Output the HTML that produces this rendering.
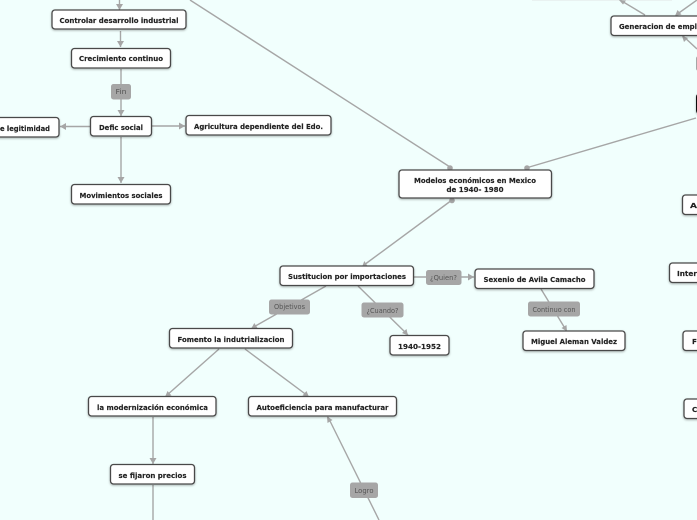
<!DOCTYPE html>
<html><head><meta charset="utf-8"><style>
html,body{margin:0;padding:0;background:#f1fffd;overflow:hidden}
svg{display:block}
.n{fill:#fff;stroke:#4a4a4a;stroke-width:1.3}
.t{font:bold 7.2px "DejaVu Sans","Liberation Sans",sans-serif;fill:#222;text-anchor:middle;stroke:#222;stroke-width:.15;filter:blur(.3px)}
.l{fill:#a6a6a6}
.lt{font:7px "DejaVu Sans","Liberation Sans",sans-serif;fill:#555;text-anchor:middle;filter:blur(.25px)}
.c{stroke:#a6a6a6;stroke-width:1.4;fill:none}
.a{fill:#a6a6a6}
</style></head><body>
<svg width="697" height="520" viewBox="0 0 697 520" xmlns="http://www.w3.org/2000/svg">
<defs><filter id="s" x="-10%" y="-20%" width="120%" height="150%"><feDropShadow dx="0" dy="1" stdDeviation="1" flood-color="#000" flood-opacity=".3"/></filter></defs>
<rect x="532" y="0" width="140" height="1" fill="#e9f2f1"/>
<g class="c">
<path d="M119.500 0V10"/><path d="M120.500 31V47"/><path d="M121 69V116"/><path d="M90 126.500H60"/><path d="M152 126H185"/><path d="M121 137V183"/>
<path d="M190 0L450 167"/><path d="M696 118L526 168"/><path d="M452 200L364 265"/>
<path d="M414 277H474"/><path d="M326 286L252 328"/><path d="M358 286L408 335"/><path d="M541 289L566 330"/>
<path d="M219 349L166 396"/><path d="M245 349L308 396"/><path d="M153 417V464"/><path d="M153 485V520"/><path d="M379 520L328 417"/>
<path d="M645 15L620 0"/><path d="M676 15L697 0"/><path d="M697 49L683 36"/>
</g>
<g class="a">
<path d="M116 4h7l-3.500 6z"/><path d="M117 41h7l-3.500 6z"/><path d="M117.500 110h7l-3.500 6z"/><path d="M66 123v7l-6-3.500z"/><path d="M179 122.500v7l6-3.500z"/><path d="M117.500 177h7l-3.500 6z"/>
<circle cx="450" cy="168" r="2.800"/><circle cx="527" cy="168" r="2.800"/><circle cx="452" cy="200.500" r="2.800"/>
<path d="M362 267l5.500-1 -3.200-5z"/><path d="M468 273.500v7l6-3.500z"/><path d="M251 329l6.500-1-3.200-5z"/><path d="M408 335.500l-1.500-6.500-4.500 4z"/><path d="M567 331.500l-.5-6.500-5 3z"/>
<path d="M165 397l6.500-1.500-4-4.500z"/><path d="M309 397l-2.500-6-4 4.500z"/><path d="M149.500 458h7l-3.500 6z"/><path d="M327 416.500l.5 6.500 5-3z"/>
<path d="M619 0l7 .5-3 4z"/><path d="M675 16l6.500-1.500-4-4.500z"/><path d="M682 36l6 2-4 4z"/>
</g>
<g filter="url(#s)">
<rect class="n" x="52" y="10" width="134" height="19" rx="3"/>
<rect class="n" x="71.500" y="48.500" width="99" height="19.500" rx="3"/>
<rect class="n" x="-20" y="117.500" width="79" height="19.500" rx="3"/>
<rect class="n" x="90.500" y="116.500" width="61" height="19.500" rx="3"/>
<rect class="n" x="186" y="115.500" width="145" height="19.500" rx="3"/>
<rect class="n" x="71.500" y="184.500" width="99" height="19.500" rx="3"/>
<rect class="n" x="399" y="170" width="152.500" height="28" rx="3"/>
<rect class="n" x="280" y="266" width="133.500" height="19.500" rx="3"/>
<rect class="n" x="475" y="269" width="119" height="19.500" rx="3"/>
<rect class="n" x="523" y="331" width="102" height="19.500" rx="3"/>
<rect class="n" x="390" y="335.500" width="59" height="19.500" rx="3"/>
<rect class="n" x="169.500" y="328.500" width="123" height="19.500" rx="3"/>
<rect class="n" x="88.500" y="396.500" width="127.500" height="19.500" rx="3"/>
<rect class="n" x="248.500" y="396.500" width="148" height="19.500" rx="3"/>
<rect class="n" x="110.500" y="464.500" width="84" height="19.500" rx="3"/>
<rect class="n" x="611" y="16" width="120" height="19.500" rx="3"/>
<rect class="n" x="697" y="94" width="30" height="19.500" rx="3" style="stroke:#111;stroke-width:2"/>
<rect class="n" x="682.500" y="195" width="40" height="19.500" rx="3"/>
<rect class="n" x="669.500" y="263" width="60" height="19.500" rx="3"/>
<rect class="n" x="683" y="331" width="40" height="19.500" rx="3"/>
<rect class="n" x="684" y="399" width="40" height="19.500" rx="3"/>
</g>
<g>
<rect class="l" x="111" y="84" width="20" height="15.500" rx="2.500"/>
<rect class="l" x="426" y="270" width="35.500" height="15" rx="2.500"/>
<rect class="l" x="269" y="299.500" width="41" height="15" rx="2.500"/>
<rect class="l" x="361.500" y="302.500" width="42" height="15" rx="2.500"/>
<rect class="l" x="528" y="301.500" width="52" height="15" rx="2.500"/>
<rect class="l" x="350" y="482.500" width="28" height="15.500" rx="2.500"/>
<rect class="l" x="696" y="56" width="10" height="15" rx="2.500"/>
</g>
<g class="t">
<text x="119" y="23" textLength="119" lengthAdjust="spacingAndGlyphs">Controlar desarrollo industrial</text>
<text x="121" y="61" textLength="84" lengthAdjust="spacingAndGlyphs">Crecimiento continuo</text>
<text x="25" y="131" textLength="50" lengthAdjust="spacingAndGlyphs">e legitimidad</text>
<text x="121" y="130" textLength="44" lengthAdjust="spacingAndGlyphs">Defic social</text>
<text x="258.500" y="129" textLength="129" lengthAdjust="spacingAndGlyphs">Agricultura dependiente del Edo.</text>
<text x="121" y="198" textLength="83" lengthAdjust="spacingAndGlyphs">Movimientos sociales</text>
<text x="475" y="183" textLength="122" lengthAdjust="spacingAndGlyphs">Modelos económicos en Mexico</text>
<text x="475" y="192" textLength="57" lengthAdjust="spacingAndGlyphs">de 1940- 1980</text>
<text x="347" y="279" textLength="118" lengthAdjust="spacingAndGlyphs">Sustitucion por importaciones</text>
<text x="534.500" y="282" textLength="102" lengthAdjust="spacingAndGlyphs">Sexenio de Avila Camacho</text>
<text x="574" y="344" textLength="86" lengthAdjust="spacingAndGlyphs">Miguel Aleman Valdez</text>
<text x="419.500" y="349" textLength="43" lengthAdjust="spacingAndGlyphs">1940-1952</text>
<text x="231" y="342" textLength="107" lengthAdjust="spacingAndGlyphs">Fomento la indutrializacion</text>
<text x="152.500" y="410" textLength="111" lengthAdjust="spacingAndGlyphs">la modernización económica</text>
<text x="322.500" y="410" textLength="132" lengthAdjust="spacingAndGlyphs">Autoeficiencia para manufacturar</text>
<text x="152.500" y="478" textLength="68" lengthAdjust="spacingAndGlyphs">se fijaron precios</text>
<text x="619" y="29" style="text-anchor:start" textLength="78" lengthAdjust="spacingAndGlyphs">Generacion de empl</text>
<text x="690" y="208" style="text-anchor:start" textLength="7" lengthAdjust="spacingAndGlyphs">A</text>
<text x="677" y="276" style="text-anchor:start" textLength="20" lengthAdjust="spacingAndGlyphs">Inter</text>
<text x="692" y="344" style="text-anchor:start">F</text>
<text x="692" y="412" style="text-anchor:start">C</text>
</g>
<g class="lt">
<text x="121" y="94" textLength="11" lengthAdjust="spacingAndGlyphs">Fin</text>
<text x="443.500" y="280" textLength="27" lengthAdjust="spacingAndGlyphs">¿Quien?</text>
<text x="289.500" y="309" textLength="31" lengthAdjust="spacingAndGlyphs">Objetivos</text>
<text x="382.500" y="313" textLength="32" lengthAdjust="spacingAndGlyphs">¿Cuando?</text>
<text x="554" y="312" textLength="43" lengthAdjust="spacingAndGlyphs">Continuo con</text>
<text x="364" y="493" textLength="19" lengthAdjust="spacingAndGlyphs">Logro</text>
</g>
</svg>
</body></html>
